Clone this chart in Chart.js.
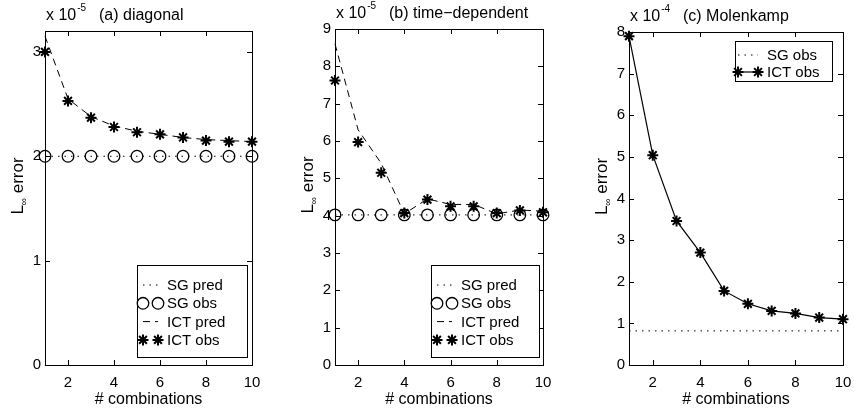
<!DOCTYPE html>
<html>
<head>
<meta charset="utf-8">
<script src="https://cdn.jsdelivr.net/npm/chart.js@4.4.1/dist/chart.umd.min.js"></script>
<style>
  html, body { margin: 0; padding: 0; background: #fff; }
  #wrap { position: relative; width: 854px; height: 414px; }
  #wrap canvas { position: absolute; left: 0; top: 0; width: 854px; height: 414px; }
</style>
</head>
<body>
<div id="wrap">
  <canvas id="diag" width="854" height="414"></canvas>
  <canvas id="time" width="854" height="414"></canvas>
  <canvas id="mole" width="854" height="414"></canvas>
</div>
<script>
// number of combinations on the x axis
const combos = [1, 2, 3, 4, 5, 6, 7, 8, 9, 10];
const xTickValues = [2, 4, 6, 8, 10];

// (a) diagonal, values x 10^-5
const diagTicks = [0, 1, 2, 3];
const diagSgPred = [2.0, 2.0, 2.0, 2.0, 2.0, 2.0, 2.0, 2.0, 2.0, 2.0];
const diagSgObs = [2.0, 2.0, 2.0, 2.0, 2.0, 2.0, 2.0, 2.0, 2.0, 2.0];
const diagIctPred = [3.15, 2.55, 2.38, 2.29, 2.24, 2.21, 2.18, 2.16, 2.15, 2.14];
const diagIctObs = [3.0, 2.53, 2.37, 2.28, 2.23, 2.21, 2.18, 2.15, 2.14, 2.14];

// (b) time-dependent, values x 10^-5
const timeTicks = [0, 1, 2, 3, 4, 5, 6, 7, 8, 9];
const timeSgPred = [4.02, 4.02, 4.02, 4.02, 4.02, 4.02, 4.02, 4.02, 4.02, 4.02];
const timeSgObs = [4.02, 4.02, 4.02, 4.02, 4.02, 4.02, 4.02, 4.02, 4.02, 4.02];
const timeIctPred = [8.6, 6.3, 5.4, 4.05, 4.45, 4.3, 4.3, 4.05, 4.15, 4.12];
const timeIctObs = [7.62, 5.97, 5.15, 4.07, 4.43, 4.25, 4.25, 4.07, 4.14, 4.09];

// (c) Molenkamp, values x 10^-4
const moleTicks = [0, 1, 2, 3, 4, 5, 6, 7, 8];
const moleSgObs = [0.82, 0.82, 0.82, 0.82, 0.82, 0.82, 0.82, 0.82, 0.82, 0.82];
const moleIctObs = [7.9, 5.04, 3.46, 2.7, 1.78, 1.47, 1.3, 1.24, 1.14, 1.1];

const FONT = "'Liberation Sans', Arial, Helvetica, sans-serif";
Chart.defaults.font.family = FONT;
Chart.defaults.font.size = 13;
Chart.defaults.color = '#000';

const pts = vals => combos.map((c, i) => ({ x: c, y: vals[i] }));

// matlab style frame: box, inward ticks, exponent title, axis labels
const matlabAxes = {
  id: 'matlabAxes',
  afterDatasetsDraw(chart, args, opts) {
    const { ctx, chartArea: a, scales: { x, y } } = chart;
    ctx.save();
    ctx.strokeStyle = '#000';
    ctx.lineWidth = 1;
    ctx.setLineDash([]);
    ctx.strokeRect(Math.round(a.left) + 0.5, Math.round(a.top) + 0.5, Math.round(a.width), Math.round(a.height));
    ctx.beginPath();
    x.ticks.forEach(t => {
      const px = Math.round(x.getPixelForValue(t.value)) + 0.5;
      ctx.moveTo(px, a.bottom); ctx.lineTo(px, a.bottom - 5);
      ctx.moveTo(px, a.top); ctx.lineTo(px, a.top + 5);
    });
    y.ticks.forEach(t => {
      const py = Math.round(y.getPixelForValue(t.value)) + 0.5;
      ctx.moveTo(a.left, py); ctx.lineTo(a.left + 5, py);
      ctx.moveTo(a.right, py); ctx.lineTo(a.right - 5, py);
    });
    ctx.stroke();

    ctx.fillStyle = '#000';
    ctx.textAlign = 'left';
    ctx.textBaseline = 'alphabetic';
    // exponent + title
    let tx = a.left + 1;
    const ty = a.top - 11;
    ctx.font = '16px ' + FONT;
    ctx.fillText('x 10', tx, ty);
    tx += ctx.measureText('x 10').width + 1;
    ctx.font = '10px ' + FONT;
    ctx.fillText(opts.exponent, tx, ty - 9);
    ctx.font = '16px ' + FONT;
    ctx.fillText(opts.title, a.left + 54, ty);

    // x label
    ctx.textAlign = 'center';
    ctx.textBaseline = 'middle';
    ctx.font = '16px ' + FONT;
    ctx.fillText('# combinations', (a.left + a.right) / 2, a.bottom + 35);

    // y label: L with subscript infinity, then "error"
    ctx.translate(a.left - 27, (a.top + a.bottom) / 2 - 12);
    ctx.rotate(-Math.PI / 2);
    ctx.textAlign = 'left';
    ctx.font = '17px ' + FONT;
    const wL = ctx.measureText('L').width;
    const wE = ctx.measureText(' error').width;
    ctx.font = '10px ' + FONT;
    const wI = ctx.measureText('\u221e').width;
    let sx = -(wL + wI + wE) / 2;
    ctx.font = '17px ' + FONT;
    ctx.fillText('L', sx, 0);
    sx += wL;
    ctx.font = '10px ' + FONT;
    ctx.fillText('\u221e', sx, 6);
    sx += wI;
    ctx.font = '17px ' + FONT;
    ctx.fillText(' error', sx, 0);
    ctx.restore();
  }
};

// legend box drawn inside the axes like matlab
const boxLegend = {
  id: 'boxLegend',
  afterDraw(chart, args, opts) {
    const { ctx, chartArea: a } = chart;
    const right = a.right - opts.dx;
    const left = right - opts.width;
    const top = opts.fromTop ? a.top + opts.dy : a.bottom - opts.dy - opts.height;
    ctx.save();
    ctx.fillStyle = '#fff';
    ctx.fillRect(left, top, opts.width, opts.height);
    ctx.strokeStyle = '#000';
    ctx.lineWidth = 1;
    ctx.strokeRect(Math.round(left) + 0.5, Math.round(top) + 0.5, Math.round(opts.width), Math.round(opts.height));
    chart.data.datasets.forEach((ds, i) => {
      const cy = top + opts.first + i * opts.rowH;
      const x0 = left + opts.x0, x1 = left + opts.x1;
      ctx.strokeStyle = '#000';
      if (ds.showLine !== false) {
        ctx.lineWidth = ds.borderWidth || 1;
        ctx.setLineDash(ds.borderDash || []);
        ctx.beginPath();
        ctx.moveTo(x0, cy); ctx.lineTo(x1, cy);
        ctx.stroke();
        ctx.setLineDash([]);
      }
      if (ds.pointRadius > 0) {
        ctx.fillStyle = 'rgba(0,0,0,0)';
        ctx.lineWidth = ds.pointBorderWidth;
        [x0, x1].forEach(px => Chart.helpers.drawPoint(ctx, {
          pointStyle: ds.pointStyle, radius: ds.pointRadius, borderWidth: ds.pointBorderWidth, rotation: 0
        }, px, cy));
      }
      ctx.fillStyle = '#000';
      ctx.font = '15px ' + FONT;
      ctx.textAlign = 'left';
      ctx.textBaseline = 'middle';
      ctx.fillText(ds.label, left + opts.tx, cy + 1);
    });
    ctx.restore();
  }
};

const sgPredStyle = { borderColor: '#000', borderWidth: 1, borderDash: [1.5, 5], pointRadius: 0, clip: false };
const sgObsStyle = { showLine: false, pointStyle: 'circle', pointRadius: 5.8, pointBorderWidth: 1.3,
  pointBorderColor: '#000', pointBackgroundColor: 'rgba(0,0,0,0)', clip: false };
const ictPredStyle = { borderColor: '#000', borderWidth: 1, borderDash: [7, 5], pointRadius: 0, clip: false };
const ictObsStyle = { showLine: false, pointStyle: 'star', pointRadius: 5.5, pointBorderWidth: 2,
  pointBorderColor: '#000', clip: false };

function makePanel(id, cfg) {
  new Chart(document.getElementById(id), {
    type: 'line',
    data: { datasets: cfg.datasets },
    options: {
      responsive: false,
      animation: false,
      devicePixelRatio: 1,
      layout: { padding: cfg.padding },
      scales: {
        x: {
          type: 'linear', min: 1, max: 10,
          grid: { display: false, drawTicks: false },
          border: { display: false },
          ticks: { padding: 9, font: { size: 15 } },
          afterBuildTicks: s => { s.ticks = xTickValues.map(v => ({ value: v })); },
          afterFit: s => { s.height = 49; s.paddingLeft = 0; s.paddingRight = 0; }
        },
        y: {
          type: 'linear', min: 0, max: cfg.yMax,
          grid: { display: false, drawTicks: false },
          border: { display: false },
          ticks: { padding: 4, font: { size: 15 } },
          afterBuildTicks: s => { s.ticks = cfg.yTicks.map(v => ({ value: v })); },
          afterFit: s => { s.width = 45; s.paddingTop = 0; s.paddingBottom = 0; }
        }
      },
      plugins: {
        legend: { display: false },
        tooltip: { enabled: false },
        matlabAxes: { exponent: cfg.exponent, title: cfg.title },
        boxLegend: cfg.legend
      }
    },
    plugins: [matlabAxes, boxLegend]
  });
}

makePanel('diag', {
  padding: { left: 0, right: 602, top: 31, bottom: 0 },
  yMax: 3.2, yTicks: diagTicks, exponent: '-5', title: '(a) diagonal',
  legend: { fromTop: false, dx: 5, dy: 8, width: 110, height: 92, first: 20, rowH: 18.3, x0: 6, x1: 21, tx: 30 },
  datasets: [
    { label: 'SG pred', data: pts(diagSgPred), ...sgPredStyle },
    { label: 'SG obs', data: pts(diagSgObs), ...sgObsStyle },
    { label: 'ICT pred', data: pts(diagIctPred), ...ictPredStyle },
    { label: 'ICT obs', data: pts(diagIctObs), ...ictObsStyle }
  ]
});

makePanel('time', {
  padding: { left: 290, right: 311, top: 29, bottom: 0 },
  yMax: 9, yTicks: timeTicks, exponent: '-5', title: '(b) time\u2212dependent',
  legend: { fromTop: false, dx: 4, dy: 8, width: 108, height: 92, first: 20, rowH: 18.3, x0: 6, x1: 21, tx: 30 },
  datasets: [
    { label: 'SG pred', data: pts(timeSgPred), ...sgPredStyle },
    { label: 'SG obs', data: pts(timeSgObs), ...sgObsStyle },
    { label: 'ICT pred', data: pts(timeIctPred), ...ictPredStyle },
    { label: 'ICT obs', data: pts(timeIctObs), ...ictObsStyle }
  ]
});

makePanel('mole', {
  padding: { left: 584, right: 11, top: 32, bottom: 0 },
  yMax: 8, yTicks: moleTicks, exponent: '-4', title: '(c) Molenkamp',
  legend: { fromTop: true, dx: 11, dy: 9, width: 97, height: 40, first: 14, rowH: 17, x0: 3, x1: 23, tx: 32 },
  datasets: [
    { label: 'SG obs', data: pts(moleSgObs), ...sgPredStyle },
    { label: 'ICT obs', data: pts(moleIctObs), borderColor: '#000', borderWidth: 1.2,
      pointStyle: 'star', pointRadius: 5.5, pointBorderWidth: 2, pointBorderColor: '#000', clip: false }
  ]
});
</script>
</body>
</html>
